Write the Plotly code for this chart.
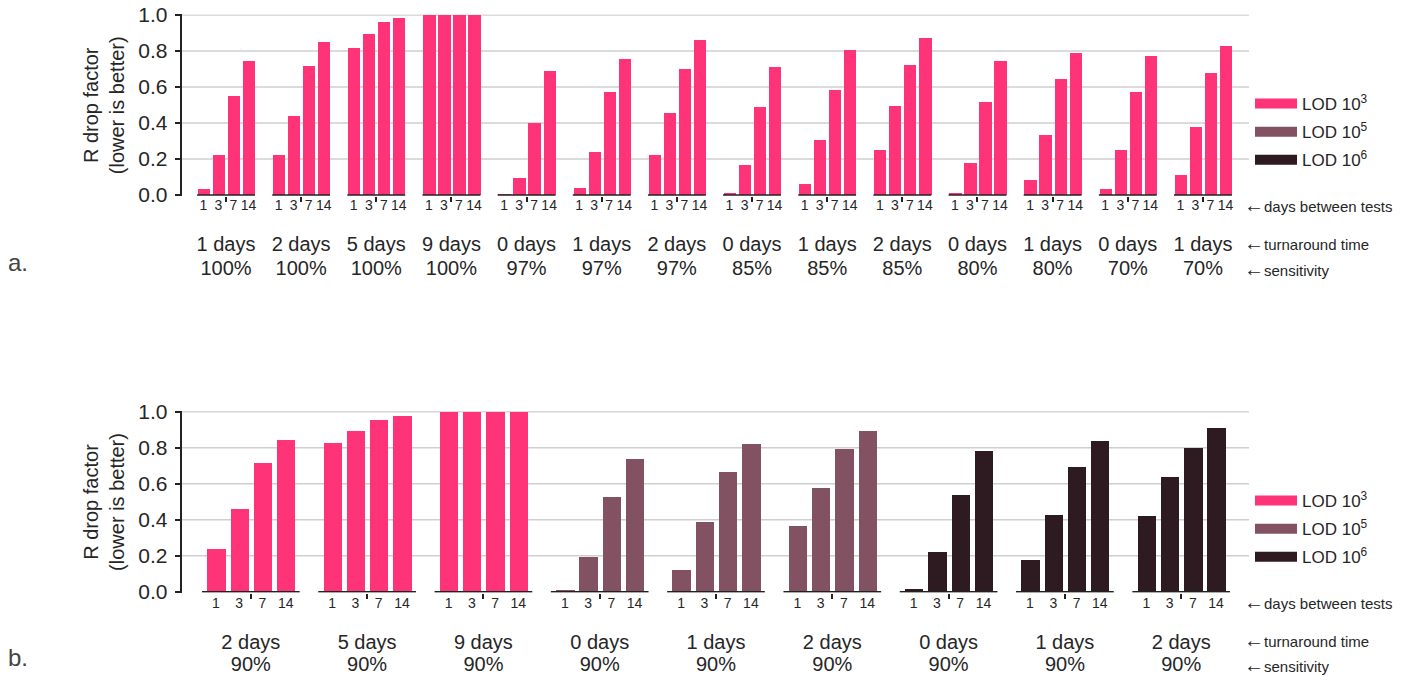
import plotly.graph_objects as go

# ---------------- data ----------------
days_between_tests = ["1", "3", "7", "14"]
lod_names = ["LOD 10<sup>3</sup>", "LOD 10<sup>5</sup>", "LOD 10<sup>6</sup>"]
lod_colors = ["#FF3377", "#835262", "#2E1A21"]

# panel a
a_turnaround = ["1 days", "2 days", "5 days", "9 days", "0 days", "1 days", "2 days",
                "0 days", "1 days", "2 days", "0 days", "1 days", "0 days", "1 days"]
a_sensitivity = ["100%", "100%", "100%", "100%", "97%", "97%", "97%",
                 "85%", "85%", "85%", "80%", "80%", "70%", "70%"]
a_lod = [0] * 14
a_values = [
    [0.033, 0.217, 0.546, 0.743],
    [0.217, 0.439, 0.713, 0.848],
    [0.815, 0.893, 0.956, 0.980],
    [1.000, 1.000, 1.000, 1.000],
    [0.002, 0.093, 0.398, 0.687],
    [0.037, 0.237, 0.572, 0.754],
    [0.220, 0.454, 0.698, 0.856],
    [0.009, 0.165, 0.485, 0.709],
    [0.059, 0.304, 0.581, 0.802],
    [0.248, 0.494, 0.722, 0.867],
    [0.011, 0.176, 0.515, 0.743],
    [0.081, 0.331, 0.643, 0.785],
    [0.031, 0.250, 0.570, 0.770],
    [0.106, 0.378, 0.676, 0.826],
]

# panel b
b_turnaround = ["2 days", "5 days", "9 days", "0 days", "1 days", "2 days",
                "0 days", "1 days", "2 days"]
b_sensitivity = ["90%"] * 9
b_lod = [0, 0, 0, 1, 1, 1, 2, 2, 2]
b_values = [
    [0.235, 0.457, 0.713, 0.843],
    [0.826, 0.893, 0.954, 0.978],
    [1.000, 1.000, 1.000, 1.000],
    [0.006, 0.194, 0.524, 0.739],
    [0.117, 0.387, 0.665, 0.820],
    [0.365, 0.576, 0.791, 0.893],
    [0.013, 0.222, 0.537, 0.781],
    [0.176, 0.428, 0.694, 0.837],
    [0.420, 0.635, 0.800, 0.911],
]

y_ticks = [0.0, 0.2, 0.4, 0.6, 0.8, 1.0]
row_labels = ["days between tests", "turnaround time", "sensitivity"]

# ---------------- layout helpers ----------------
W, H = 1406, 676
FONT = "Liberation Sans, Arial, Helvetica, sans-serif"
TXT = "#262626"
AX = "#222222"
GRID = "#cfcfcf"
OFFSETS = [-0.3, -0.1, 0.1, 0.3]


def py(p):
    return 1 - p / H


X_LEFT, X_RIGHT = 181.5, 1249
YR = [-0.006, 1.003]

panels = [
    dict(turn=a_turnaround, sens=a_sensitivity, lod=a_lod, vals=a_values,
         y0=195.0, xr=[-0.592, 13.613], bw=0.163, base=0.385,
         xa="x", ya="y", ov1="x3", ov2="x4", legend="legend",
         sd_day=-1, sd_turn=25, sd_sens=58, rows=(205, 243, 269), leg_top=86, tag="a.", tag_y=262),
    dict(turn=b_turnaround, sens=b_sensitivity, lod=b_lod, vals=b_values,
         y0=591.7, xr=[-0.596, 8.583], bw=0.158, base=0.42,
         xa="x2", ya="y2", ov1="x5", ov2="x6", legend="legend2",
         sd_day=0, sd_turn=26, sd_sens=57, rows=(602, 640, 665), leg_top=483, tag="b.", tag_y=657),
]

fig = go.Figure()
shapes = []
layout = {}
annotations = []

for p in panels:
    n = len(p["vals"])
    centers = list(range(n))
    # bars, one trace per LOD
    for li in range(3):
        xs, ys = [], []
        for g in range(n):
            if p["lod"][g] != li:
                continue
            for d in range(4):
                xs.append(g + OFFSETS[d])
                ys.append(p["vals"][g][d])
        if xs:
            fig.add_trace(go.Bar(x=xs, y=ys, width=p["bw"], marker_color=lod_colors[li],
                                 marker_line_width=0, showlegend=False,
                                 xaxis=p["xa"], yaxis=p["ya"], name=lod_names[li]))
    # legend entries
    for li in range(3):
        fig.add_trace(go.Scatter(x=[None], y=[None], mode="lines",
                                 line=dict(color=lod_colors[li], width=13),
                                 name=lod_names[li], legend=p["legend"],
                                 legendgroup=p["legend"] + str(li),
                                 xaxis=p["xa"], yaxis=p["ya"], hoverinfo="skip"))
    # invisible anchors so the overlay axes (group labels) are drawn
    for ov in (p["ov1"], p["ov2"]):
        fig.add_trace(go.Scatter(x=[None], y=[None], mode="markers", showlegend=False,
                                 xaxis=ov, yaxis=p["ya"], hoverinfo="skip"))
    # gridlines
    for v in y_ticks[1:]:
        shapes.append(dict(type="line", xref=p["xa"] + " domain", x0=0, x1=1,
                           yref=p["ya"], y0=v, y1=v, layer="below",
                           line=dict(color=GRID, width=1.6)))
    # group baselines
    for g in centers:
        shapes.append(dict(type="line", xref=p["xa"], x0=g - p["base"], x1=g + p["base"],
                           yref=p["ya"], y0=0, y1=0, layer="above",
                           line=dict(color=AX, width=1.6)))

    ydom = [py(p["y0"] - YR[0] * 180), py(p["y0"] - 180 - (YR[1] - 1) * 180)]
    xdom = [X_LEFT / W, X_RIGHT / W]
    yname = "yaxis" if p["ya"] == "y" else "yaxis2"
    xname = "xaxis" if p["xa"] == "x" else "xaxis2"
    layout[yname] = dict(
        domain=ydom, range=YR, anchor=p["xa"], tickvals=y_ticks, automargin=False,
        ticktext=[f"{v:.1f}" for v in y_ticks], ticks="outside", ticklen=5,
        tickwidth=1.5, tickcolor=AX, showline=True, linecolor=AX, linewidth=1.5,
        showgrid=False, zeroline=False, ticklabelstandoff=3,
        tickfont=dict(family=FONT, size=21, color=TXT),
        title=dict(text="R drop factor<br>(lower is better)", standoff=8,
                   font=dict(family=FONT, size=20, color=TXT)),
    )
    bar_pos = [g + OFFSETS[d] for g in centers for d in range(4)]
    layout[xname] = dict(
        domain=xdom, range=p["xr"], anchor=p["ya"], tickvals=bar_pos, automargin=False,
        ticktext=days_between_tests * n, ticks="", showgrid=False, zeroline=False,
        showline=False, ticklabelstandoff=p["sd_day"],
        tickfont=dict(family=FONT, size=14, color=TXT),
    )
    o1 = "xaxis" + p["ov1"][1:]
    o2 = "xaxis" + p["ov2"][1:]
    layout[o1] = dict(
        overlaying=p["xa"], anchor=p["ya"], side="bottom", range=p["xr"], automargin=False,
        tickvals=centers, ticktext=p["turn"], ticks="outside", ticklen=5,
        tickwidth=1.5, tickcolor=AX, showgrid=False, zeroline=False, showline=False,
        ticklabelstandoff=p["sd_turn"], tickfont=dict(family=FONT, size=20, color=TXT),
    )
    layout[o2] = dict(
        overlaying=p["xa"], anchor=p["ya"], side="bottom", range=p["xr"], automargin=False,
        tickvals=centers, ticktext=p["sens"], ticks="", showgrid=False,
        zeroline=False, showline=False, ticklabelstandoff=p["sd_sens"],
        tickfont=dict(family=FONT, size=20, color=TXT),
    )

    for txt, yy in zip(row_labels, p["rows"]):
        annotations.append(dict(
            text='<span style="font-size:20px">\u2190</span>' + txt,
            x=1242 / W, y=py(yy), xref="paper", yref="paper",
            xanchor="left", yanchor="middle", showarrow=False,
            font=dict(family=FONT, size=15, color=TXT)))
    annotations.append(dict(text=p["tag"], x=6 / W, y=py(p["tag_y"]), xref="paper", yref="paper",
                            xanchor="left", yanchor="middle", showarrow=False,
                            font=dict(family=FONT, size=24, color="#444444")))
    layout[p["legend"]] = dict(
        x=1250 / W, y=py(p["leg_top"]), xanchor="left", yanchor="top",
        bgcolor="rgba(0,0,0,0)", font=dict(family=FONT, size=17, color=TXT),
        traceorder="grouped", tracegroupgap=3, itemwidth=42,
        itemclick=False, itemdoubleclick=False)

fig.update_layout(
    width=W, height=H, autosize=False,
    margin=dict(l=0, r=0, t=0, b=0, pad=0, autoexpand=False),
    paper_bgcolor="white", plot_bgcolor="white",
    barmode="overlay", bargap=0,
    font=dict(family=FONT, color=TXT),
    shapes=shapes, annotations=annotations,
    **layout,
)

fig.write_html("out.html", config={"displayModeBar": False},
               post_script="document.body.style.margin='0';")
